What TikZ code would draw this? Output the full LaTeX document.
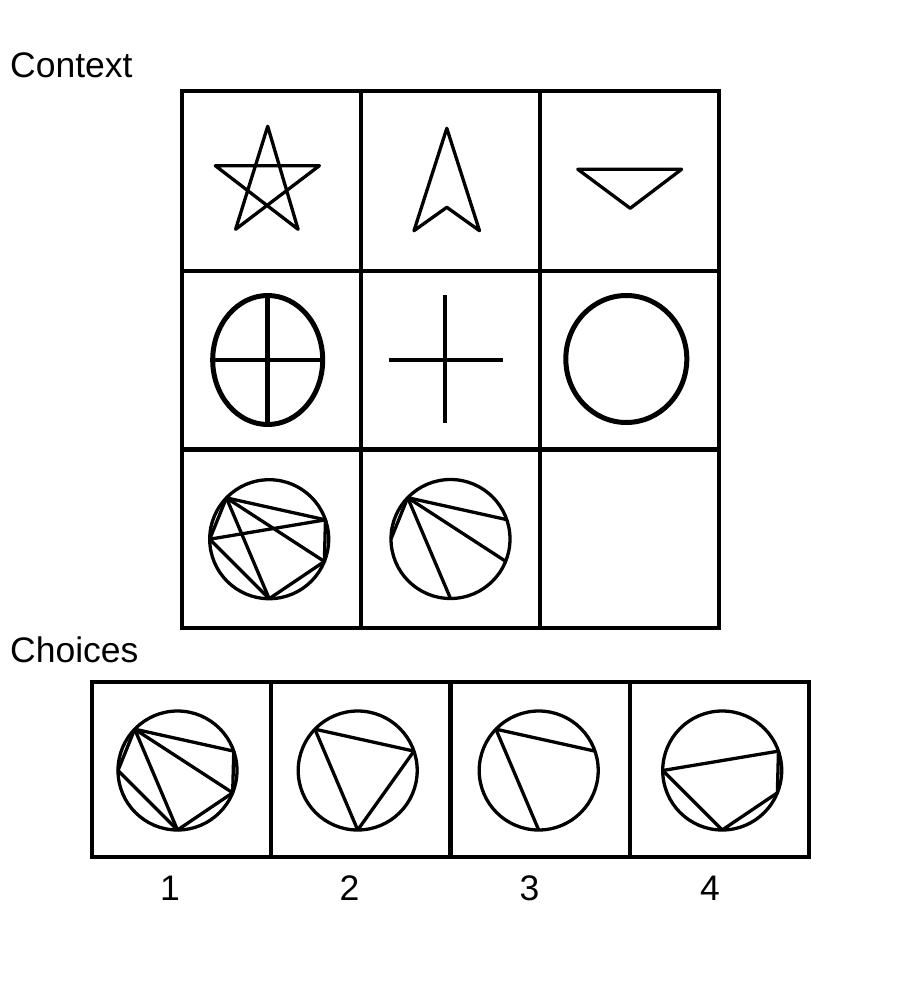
\documentclass[tikz,border=0pt]{standalone}
\usepackage{fontspec}
\setmainfont{Liberation Sans}
\usetikzlibrary{positioning}

\tikzset{
  chordcirc/.pic={
    \draw[fig] (0,0) circle (59.5);
    \foreach \p/\a in {A/136, B/19, C/180, D/270, E/-22}
      \coordinate (-\p) at (-\a:59.5);
  }
}

\begin{document}
\begin{tikzpicture}[
  x=1pt, y=-1pt,
  every node/.style={font=\fontsize{35.5}{40}\selectfont},
  cell/.style={draw, line width=4pt, minimum width=179pt, minimum height=179pt, inner sep=0pt},
  choice/.style={cell, minimum height=175pt},
  fig/.style={line width=3.3pt, line join=round},
  thickfig/.style={line width=5pt},
  lbl/.style={inner sep=0pt}
]
\useasboundingbox (0,0) rectangle (900,1000);
\fill[white] (0,0) rectangle (900,1000);

% ---- Labels ----
\node[lbl, anchor=base west] (ctxlbl) at (10,78) {Context};
\node[lbl, anchor=base west] (chlbl) at (10,662.5) {Choices};

% ---- Context grid ----
\foreach \r/\y in {1/181, 2/360, 3/538.5}
  \foreach \c/\x in {1/271, 2/450, 3/629}
    \node[cell] (ctx\r\c) at (\x,\y) {};

% ---- Choice cells ----
\foreach \i/\x/\lx in {1/181/170, 2/360/349.5, 3/540/529.5, 4/719/710} {
  \node[choice] (ch\i) at (\x,769.5) {};
  \node[lbl, anchor=base] (num\i) at (\lx,900) {\i};
}

% ---- Row 1: star, arrow, triangle ----
\draw[fig] (267.7,126.3) -- (235.6,229.3) -- (319.4,165.7) -- (215.3,165.7)
  -- (298.1,229.3) -- cycle;
\draw[fig] (446.8,128.3) -- (414,230.7) -- (446.8,207.3) -- (479.5,230.7) -- cycle;
\draw[fig] (577.8,169.3) -- (681.6,169.3) -- (630.2,208.3) -- cycle;

% ---- Row 2: ellipse with cross, cross, circle ----
\draw[thickfig] (267.7,360) ellipse [x radius=55, y radius=64.5];
\draw[thickfig] (267.7,295.5) -- (267.7,424.5);
\draw[fig] (212.7,360) -- (322.7,360);
\draw[line width=4pt] (445,295) -- (445,423);
\draw[fig] (388.6,360) -- (502.5,360);
\draw[thickfig] (626.3,359) ellipse [x radius=60.5, y radius=63.5];

% ---- Row 3: circles with chords ----
\pic (q1) at (269.2,539.2) {chordcirc};
\foreach \u/\v in {A/B, A/E, A/D, A/C, C/B, C/D, D/E, B/E}
  \draw[fig] (q1-\u) -- (q1-\v);
\pic (q2) at (450.5,539) {chordcirc};
\foreach \u/\v in {A/B, A/E, A/D, A/C}
  \draw[fig] (q2-\u) -- (q2-\v);

% ---- Choices ----
\pic (o1) at (177.5,770.5) {chordcirc};
\foreach \u/\v in {A/B, A/E, A/D, A/C, C/D, D/E, B/E}
  \draw[fig] (o1-\u) -- (o1-\v);
\pic (o2) at (357.7,770.5) {chordcirc};
\foreach \u/\v in {A/B, B/D, A/D}
  \draw[fig] (o2-\u) -- (o2-\v);
\pic (o3) at (538.7,770.5) {chordcirc};
\foreach \u/\v in {A/B, A/D}
  \draw[fig] (o3-\u) -- (o3-\v);
\pic (o4) at (722.2,770.5) {chordcirc};
\foreach \u/\v in {C/B, C/D, D/E, B/E}
  \draw[fig] (o4-\u) -- (o4-\v);

\end{tikzpicture}
\end{document}
